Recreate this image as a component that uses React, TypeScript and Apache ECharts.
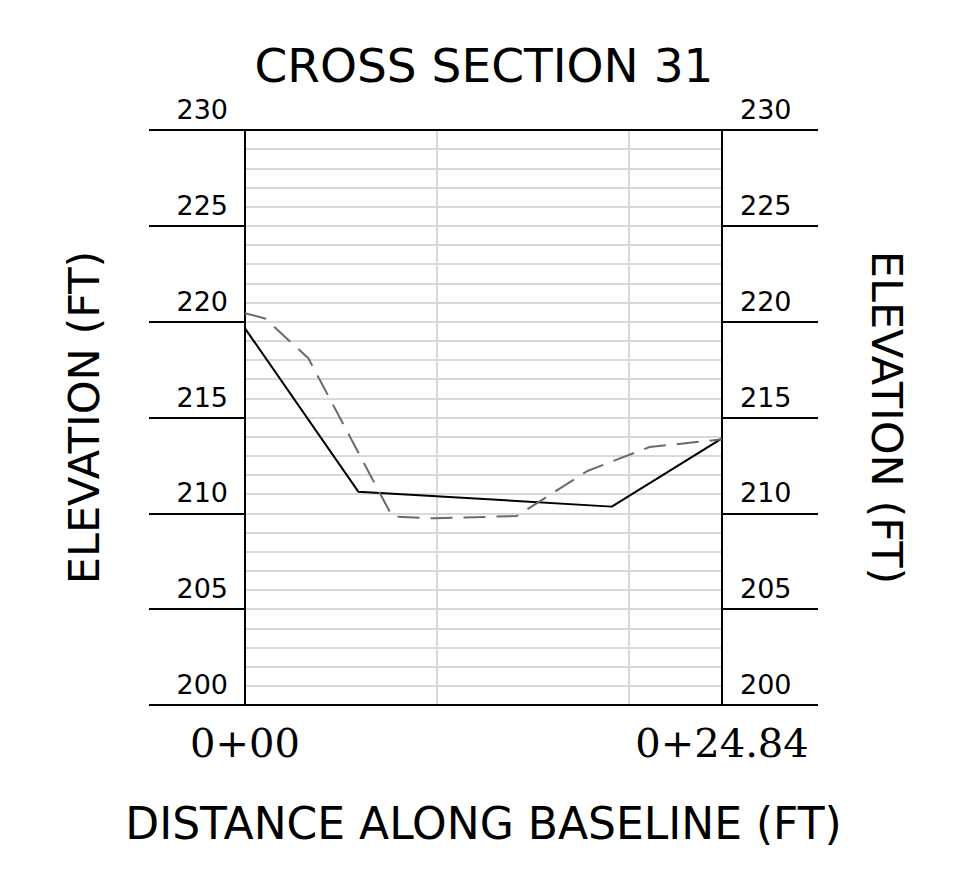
import React, { useEffect, useRef } from "react";
import * as echarts from "echarts";

const STATION_MAX = 24.84;
const ELEV_MIN = 200;
const ELEV_MAX = 230;

// Distance along baseline (ft) and elevation (ft)
const existingDist = [0, 5.9, 19.1, 24.84];
const existingElev = [219.65, 211.13, 210.35, 213.91];

const proposedDist = [0, 1.04, 3.3, 7.67, 9.9, 14.15, 17.83, 21.07, 24.84];
const proposedElev = [220.44, 220.17, 218.09, 209.83, 209.74, 209.86, 212.21, 213.46, 213.86];

const xLabelMap: Record<string, string> = { "0": "0+00", "24.84": "0+24.84" };

const FONT = "DejaVu Sans";

export default function App() {
  const ref = useRef<HTMLDivElement>(null);
  useEffect(() => {
    if (!ref.current) return;
    const chart = echarts.init(ref.current, undefined, { renderer: "svg" });
    const black = "#000";
    const grey = "#d9d9d9";
    const yFrame = (position: "left" | "right") => ({
      type: "value",
      position,
      min: ELEV_MIN,
      max: ELEV_MAX,
      interval: 5,
      z: 3,
      name: "ELEVATION (FT)",
      nameLocation: "middle",
      nameGap: position === "left" ? 140 : 143,
      nameRotate: position === "left" ? 90 : -90,
      nameTextStyle: { fontFamily: FONT, fontSize: 43, color: black },
      axisLine: { show: true, onZero: false, lineStyle: { color: black, width: 2 } },
      axisTick: { show: true, inside: false, length: 96, lineStyle: { color: black, width: 2 } },
      axisLabel: {
        show: true,
        margin: position === "left" ? 17 : 18,
        verticalAlign: "bottom",
        padding: [0, 0, 7, 0],
        fontFamily: FONT,
        fontSize: 27,
        color: black,
      },
      splitLine: { show: false },
    });
    chart.setOption({
      animation: false,
      backgroundColor: "#fff",
      title: {
        text: "CROSS SECTION 31",
        left: "center",
        top: 37,
        textStyle: { fontFamily: FONT, fontSize: 47, fontWeight: "normal", color: black },
      },
      grid: { left: 245, right: 246, top: 130, bottom: 171, containLabel: false },
      xAxis: [
        {
          type: "value",
          position: "bottom",
          min: 0,
          max: STATION_MAX,
          interval: 10,
          z: 3,
          name: "DISTANCE ALONG BASELINE (FT)",
          nameLocation: "middle",
          nameGap: 96,
          nameTextStyle: { fontFamily: FONT, fontSize: 44, color: black },
          axisLine: { show: true, onZero: false, lineStyle: { color: black, width: 2 } },
          axisTick: { show: false },
          axisLabel: {
            show: true,
            showMinLabel: true,
            showMaxLabel: true,
            margin: 18,
            fontFamily: "DejaVu Serif",
            fontSize: 40,
            color: black,
            formatter: (v: number) => xLabelMap[String(v)] ?? "",
          },
          splitLine: { show: false },
        },
        {
          type: "value",
          position: "top",
          min: 0,
          max: STATION_MAX,
          z: 3,
          axisLine: { show: true, onZero: false, lineStyle: { color: black, width: 2 } },
          axisTick: { show: false },
          axisLabel: { show: false },
          splitLine: { show: false },
        },
        {
          type: "value",
          position: "bottom",
          min: 0,
          max: STATION_MAX,
          interval: 10,
          z: 0,
          axisLine: { show: false, onZero: false },
          axisTick: { show: false },
          axisLabel: { show: false },
          splitLine: { show: true, lineStyle: { color: grey, width: 2 } },
        },
      ],
      yAxis: [
        yFrame("left"),
        yFrame("right"),
        {
          type: "value",
          position: "left",
          min: ELEV_MIN,
          max: ELEV_MAX,
          interval: 5,
          z: 0,
          axisLine: { show: false, onZero: false },
          axisTick: { show: false },
          axisLabel: { show: false },
          splitLine: { show: true, lineStyle: { color: grey, width: 2 } },
          minorTick: { show: false, splitNumber: 5 },
          minorSplitLine: { show: true, lineStyle: { color: grey, width: 2 } },
        },
      ],
      series: [
        {
          type: "line",
          name: "Existing",
          xAxisIndex: 0,
          yAxisIndex: 0,
          z: 5,
          symbol: "none",
          data: existingDist.map((d, i) => [d, existingElev[i]]),
          lineStyle: { color: black, width: 2 },
        },
        {
          type: "line",
          name: "Proposed",
          xAxisIndex: 0,
          yAxisIndex: 0,
          z: 5,
          symbol: "none",
          data: proposedDist.map((d, i) => [d, proposedElev[i]]),
          lineStyle: { color: "#6a6a6a", width: 2, type: [22, 11] },
        },
      ],
    });
    return () => chart.dispose();
  }, []);
  return (
    <div
      ref={ref}
      style={{ position: "fixed", left: 0, top: 0, width: 968, height: 876, background: "#fff" }}
    />
  );
}
